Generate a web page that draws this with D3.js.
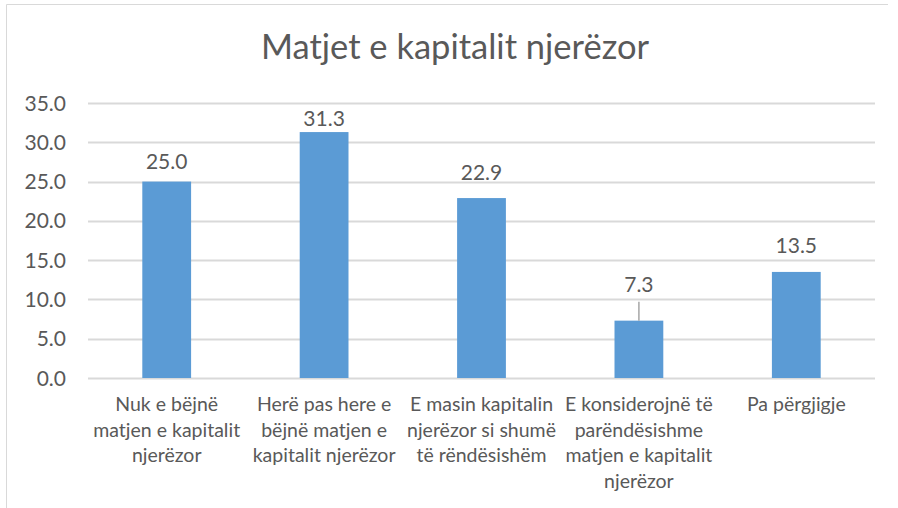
<!DOCTYPE html>
<html>
<head>
<meta charset="utf-8">
<script src="https://cdn.jsdelivr.net/npm/d3@7"></script>
<style>
  body { margin: 0; background: #fff; }
  text { font-family: Lato, "Open Sans", sans-serif; fill: #595959; }
</style>
</head>
<body>
<svg id="chart" width="898" height="508"></svg>
<script>
var title = "Matjet e kapitalit njerëzor";
var categories = [
  ["Nuk e bëjnë", "matjen e kapitalit", "njerëzor"],
  ["Herë pas here e", "bëjnë matjen e", "kapitalit njerëzor"],
  ["E masin kapitalin", "njerëzor si shumë", "të rëndësishëm"],
  ["E konsiderojnë të", "parëndësishme", "matjen e kapitalit", "njerëzor"],
  ["Pa përgjigje"]
];
var values = [25.0, 31.3, 22.9, 7.3, 13.5];
var yTicks = [0, 5, 10, 15, 20, 25, 30, 35];

// label lift above bar tops (labels were hand-moved in the original)
var labelLift = [13, 6, 18, 29, 19];

var svg = d3.select("#chart"),
    margin = {top: 103, right: 23, bottom: 130, left: 88},
    width = 898 - margin.left - margin.right,
    height = 508 - margin.top - margin.bottom;

// chart border (top + left visible)
svg.append("path")
    .attr("d", "M6.5,508V4.5H888")
    .attr("fill", "none")
    .attr("stroke", "#d9d9d9");

svg.append("text")
    .attr("x", 455)
    .attr("y", 59)
    .attr("text-anchor", "middle")
    .style("font-size", "34.5px")
    .text(title);

var g = svg.append("g").attr("transform", "translate(" + margin.left + "," + margin.top + ")");

var x = d3.scaleBand()
    .domain(d3.range(values.length))
    .range([0, width])
    .paddingInner(0.69)
    .paddingOuter(0.345);

var y = d3.scaleLinear().domain([0, 35]).range([height, 0]);

g.selectAll(".grid").data(yTicks).enter().append("line")
    .attr("x1", 0).attr("x2", width)
    .attr("y1", function(d) { return Math.round(y(d)) + 0.5; })
    .attr("y2", function(d) { return Math.round(y(d)) + 0.5; })
    .attr("stroke", "#d9d9d9")
    .attr("stroke-width", 2);

g.selectAll(".ytick").data(yTicks).enter().append("text")
    .attr("x", -22)
    .attr("y", function(d) { return y(d); })
    .attr("dy", "0.36em")
    .attr("text-anchor", "end")
    .style("font-size", "21px")
    .text(function(d) { return d3.format(".1f")(d); });

g.selectAll(".bar").data(values).enter().append("rect")
    .attr("x", function(d, i) { return x(i); })
    .attr("y", function(d) { return y(d); })
    .attr("width", x.bandwidth())
    .attr("height", function(d) { return height - y(d); })
    .attr("fill", "#5b9bd5");

// leader line for the lifted small label
g.selectAll(".leader").data(d3.range(values.length).filter(function(i) { return labelLift[i] > 25; }))
  .enter().append("line")
    .attr("x1", function(i) { return x(i) + x.bandwidth() / 2; })
    .attr("x2", function(i) { return x(i) + x.bandwidth() / 2; })
    .attr("y1", function(i) { return y(values[i]) - labelLift[i] + 10; })
    .attr("y2", function(i) { return y(values[i]); })
    .attr("stroke", "#a6a6a6")
    .attr("stroke-width", 1.5);

g.selectAll(".vlabel").data(values).enter().append("text")
    .attr("x", function(d, i) { return x(i) + x.bandwidth() / 2; })
    .attr("y", function(d, i) { return y(d) - labelLift[i]; })
    .attr("text-anchor", "middle")
    .style("font-size", "21px")
    .text(function(d) { return d3.format(".1f")(d); });

var cat = g.selectAll(".cat").data(categories).enter().append("text")
    .attr("text-anchor", "middle")
    .attr("transform", function(d, i) { return "translate(" + (x(i) + x.bandwidth() / 2) + "," + (height + 33) + ")"; })
    .style("font-size", "19.5px");

cat.selectAll("tspan").data(function(d) { return d; }).enter().append("tspan")
    .attr("x", 0)
    .attr("y", function(d, j) { return j * 25.7; })
    .text(function(d) { return d; });
</script>
</body>
</html>
